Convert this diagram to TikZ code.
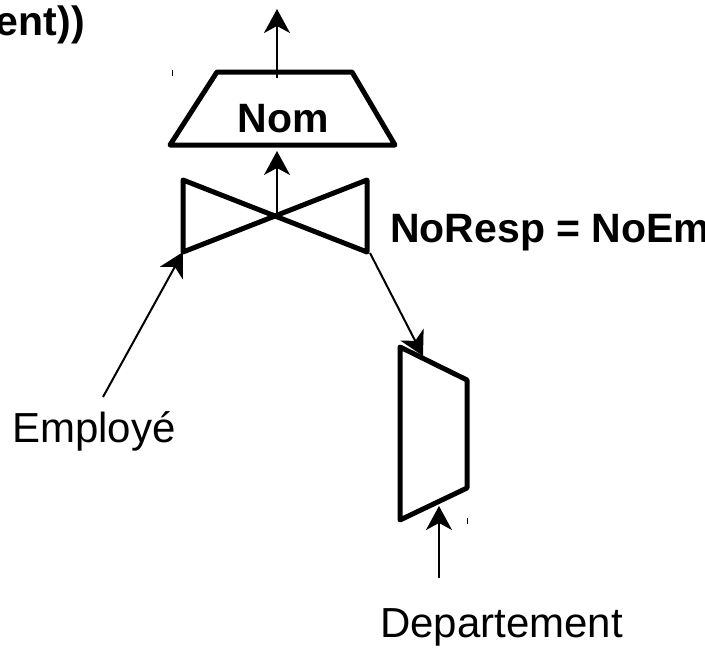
\documentclass[tikz,border=0pt]{standalone}
\usepackage{fontspec}
\setmainfont{Liberation Sans}
\usetikzlibrary{arrows.meta}

\begin{document}
\begin{tikzpicture}[x=1pt,y=-1pt,
	op/.style={line width=5pt,line join=round},
	fleche/.style={line width=2pt,-{Stealth[length=24pt,width=26pt,inset=7pt]}},
	lbl/.style={font=\fontsize{41}{49}\selectfont,inner sep=0pt},
	lbln/.style={font=\fontsize{42}{50}\selectfont,inner sep=0pt},
	tick/.style={line width=1pt}]
	\useasboundingbox (0,0) rectangle (705,648);
	\clip (0,0) rectangle (705,648);

	% projection
	\coordinate (p-tl) at (217,72);
	\coordinate (p-tr) at (352,72);
	\coordinate (p-br) at (395,145);
	\coordinate (p-bl) at (170,145);
	\draw[op] (p-tl) -- (p-tr) -- (p-br) -- (p-bl) -- cycle;
	\node[lbl,anchor=base] (nom) at (283,132) {\bfseries Nom};

	% jointure
	\coordinate (j-tl) at (183,180);
	\coordinate (j-bl) at (183,252);
	\coordinate (j-tr) at (367,180);
	\coordinate (j-br) at (367,252);
	\coordinate (j-c) at (277,216);
	\draw[op] (j-tl) -- (j-br) -- (j-tr) -- (j-bl) -- cycle;
	\node[lbl,anchor=base west] (cond) at (390,242) {\bfseries NoResp = NoEm};

	% selection sur Departement
	\coordinate (d-tl) at (400,347);
	\coordinate (d-tr) at (467,380);
	\coordinate (d-br) at (467,488);
	\coordinate (d-bl) at (400,520);
	\draw[op] (d-tl) -- (d-tr) -- (d-br) -- (d-bl) -- cycle;

	\node[lbl,anchor=base east] (titre) at (85,35) {\bfseries ent))};
	\node[lbln,anchor=base west] (employe) at (12,442) {Employé};
	\node[lbln,anchor=base west] (dept) at (380,637) {Departement};

	% fils
	\coordinate (sortie) at (277,9);
	\coordinate (p-in) at (277,78);
	\coordinate (p-bas) at (277,151);
	\coordinate (e-fil) at (103,397);
	\coordinate (j-fil) at (370,253);
	\coordinate (d-in) at (423,356);
	\coordinate (d-fil) at (439,578);
	\coordinate (d-bas) at (439,506);
	\draw[fleche] (p-in) -- (sortie);
	\draw[fleche] (j-c) -- (p-bas);
	\draw[fleche] (e-fil) -- (j-bl);
	\draw[fleche] (j-fil) -- (d-in);
	\draw[fleche] (d-fil) -- (d-bas);

	\draw[tick] (172,70) -- (172,76);
	\draw[tick] (467,518) -- (467,524);
\end{tikzpicture}
\end{document}
